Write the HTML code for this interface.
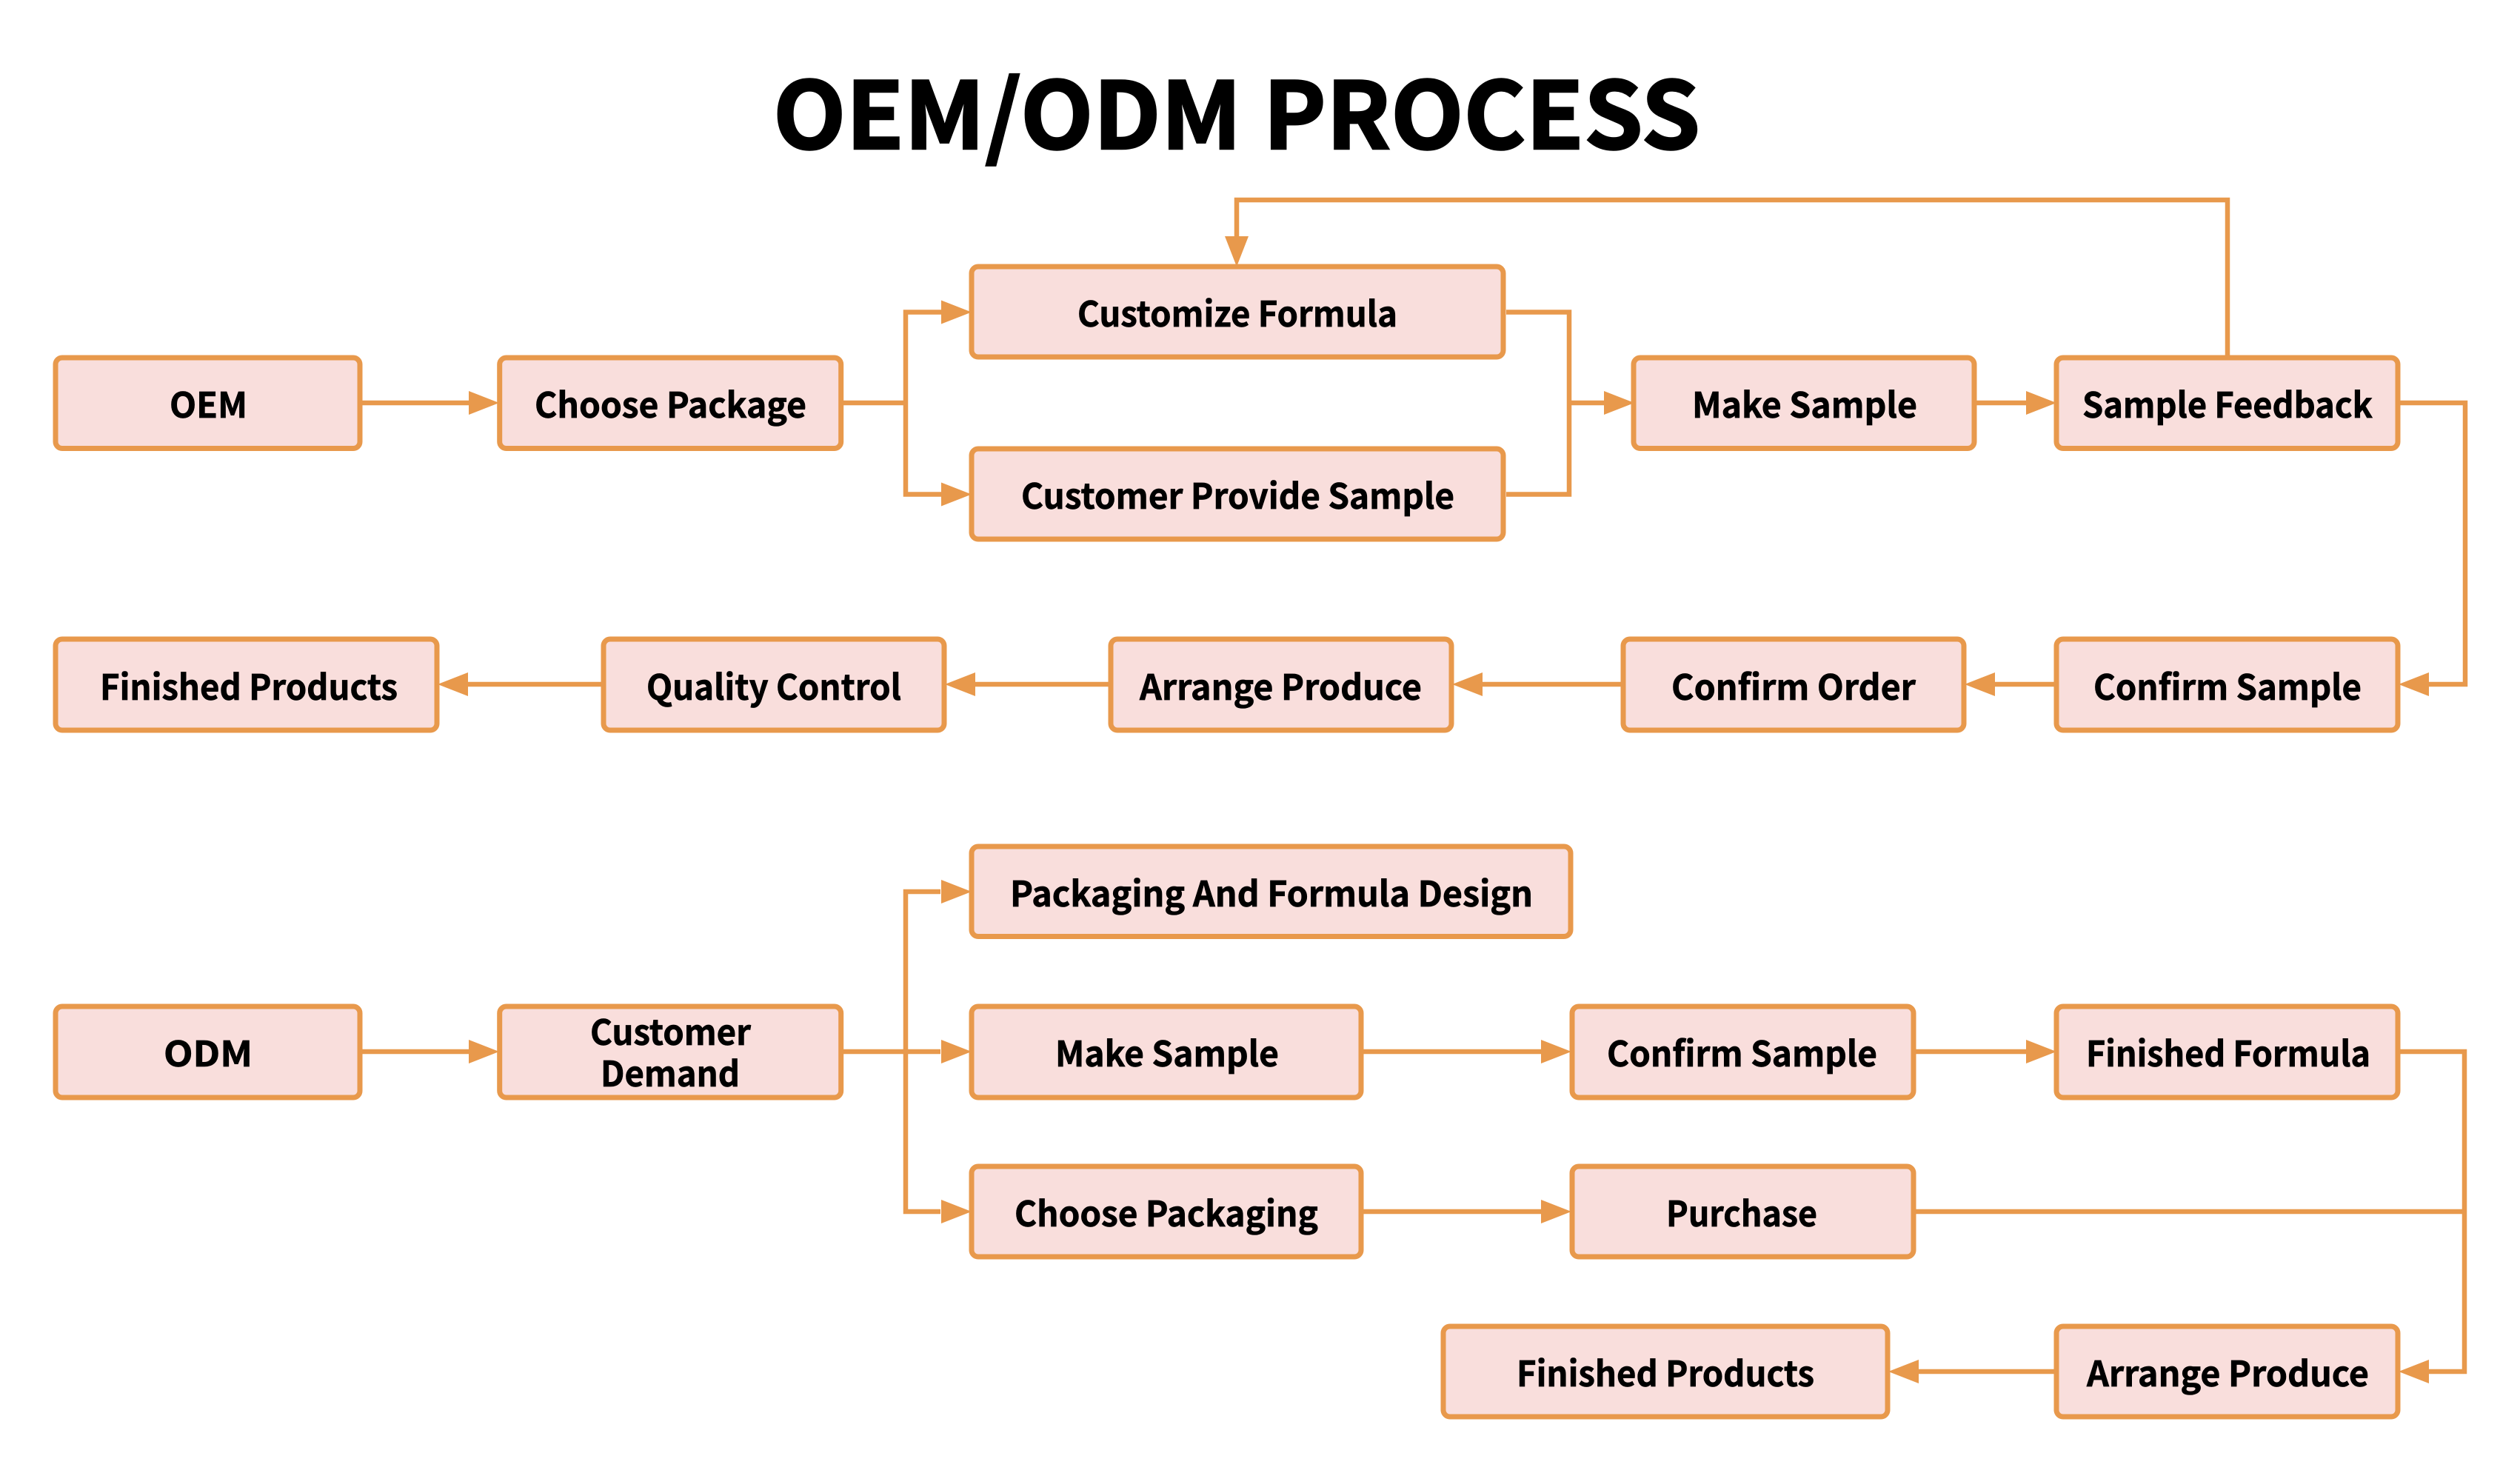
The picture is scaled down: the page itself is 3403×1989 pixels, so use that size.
<!DOCTYPE html>
<html><head><meta charset="utf-8"><style>
html,body{margin:0;padding:0;background:#fff;width:3403px;height:1989px;overflow:hidden}
svg{display:block}
rect{fill:#F9DEDC;stroke:#E8994C;stroke-width:7}
.l{fill:none;stroke:#E8994C;stroke-width:6.500;stroke-linejoin:miter}
.a{fill:#E8994C;stroke:none}
text{font-family:"Noto Sans CJK SC","Liberation Sans",sans-serif;font-weight:700;font-size:47px;fill:#000;stroke:#000;stroke-width:.7}
</style></head><body>
<svg width="3403" height="1989" viewBox="0 0 3403 1989" xmlns="http://www.w3.org/2000/svg">
<rect x="0" y="0" width="3403" height="1989" style="fill:#fff;stroke:none"/>
<text x="1044" y="201" textLength="1252" lengthAdjust="spacingAndGlyphs" style="font-size:125px;stroke-width:2.5">OEM/ODM PROCESS</text>

<!-- connectors -->
<path class="l" d="M489 544H640"/>
<path class="l" d="M1138 544H1223M1275 421.500H1223V667.500H1275"/>
<path class="l" d="M2034 421.500H2119V667.500H2034M2119 544H2170"/>
<path class="l" d="M2668 544H2740"/>
<path class="l" d="M3008 482V270H1670V325"/>
<path class="l" d="M3241 544H3329V924H3280"/>
<path class="l" d="M2775 924H2690"/>
<path class="l" d="M2190 924H2000"/>
<path class="l" d="M1497 924H1315"/>
<path class="l" d="M813 924H630"/>
<path class="l" d="M489 1420H640"/>
<path class="l" d="M1138 1420H1270M1270 1204H1223V1636H1270"/>
<path class="l" d="M1841 1420H2085"/>
<path class="l" d="M2586 1420H2740"/>
<path class="l" d="M1841 1636H2085"/>
<path class="l" d="M3241 1420H3328V1852H3280M2586 1636H3328"/>
<path class="l" d="M2775 1852H2590"/>

<!-- boxes and labels -->
<rect x="75" y="483" width="411" height="122.500" rx="9"/>
<text x="229" y="564" textLength="105" lengthAdjust="spacingAndGlyphs">OEM</text>
<rect x="674.700" y="483" width="461" height="122.500" rx="9"/>
<text x="722" y="564" textLength="367" lengthAdjust="spacingAndGlyphs">Choose Package</text>
<rect x="1312" y="360" width="718" height="122" rx="9"/>
<text x="1455" y="441" textLength="432" lengthAdjust="spacingAndGlyphs">Customize Formula</text>
<rect x="1312" y="606" width="718" height="122" rx="9"/>
<text x="1379" y="687" textLength="585" lengthAdjust="spacingAndGlyphs">Customer Provide Sample</text>
<rect x="2206" y="483" width="460" height="122.500" rx="9"/>
<text x="2285" y="564" textLength="304" lengthAdjust="spacingAndGlyphs">Make Sample</text>
<rect x="2777" y="483" width="461" height="122.500" rx="9"/>
<text x="2812" y="564" textLength="392" lengthAdjust="spacingAndGlyphs">Sample Feedback</text>

<rect x="75" y="863" width="515" height="123" rx="9"/>
<text x="135" y="945" textLength="402" lengthAdjust="spacingAndGlyphs">Finished Products</text>
<rect x="815" y="863" width="460" height="123" rx="9"/>
<text x="873" y="945" textLength="344" lengthAdjust="spacingAndGlyphs">Quality Control</text>
<rect x="1500" y="863" width="460" height="123" rx="9"/>
<text x="1539" y="945" textLength="381" lengthAdjust="spacingAndGlyphs">Arrange Produce</text>
<rect x="2192" y="863" width="460" height="123" rx="9"/>
<text x="2257" y="945" textLength="330" lengthAdjust="spacingAndGlyphs">Confirm Order</text>
<rect x="2777" y="863" width="461" height="123" rx="9"/>
<text x="2827" y="945" textLength="362" lengthAdjust="spacingAndGlyphs">Confirm Sample</text>

<rect x="1312" y="1143" width="809" height="121.500" rx="9"/>
<text x="1364" y="1224" textLength="706" lengthAdjust="spacingAndGlyphs">Packaging And Formula Design</text>
<rect x="75" y="1359" width="411" height="123" rx="9"/>
<text x="221" y="1440" textLength="120" lengthAdjust="spacingAndGlyphs">ODM</text>
<rect x="674.700" y="1359" width="461" height="123" rx="9"/>
<text x="797" y="1411" textLength="217" lengthAdjust="spacingAndGlyphs">Customer</text>
<text x="811" y="1467" textLength="188" lengthAdjust="spacingAndGlyphs">Demand</text>
<rect x="1312" y="1359" width="526" height="123" rx="9"/>
<text x="1425" y="1440" textLength="302" lengthAdjust="spacingAndGlyphs">Make Sample</text>
<rect x="2123" y="1359" width="461" height="123" rx="9"/>
<text x="2170" y="1440" textLength="365" lengthAdjust="spacingAndGlyphs">Confirm Sample</text>
<rect x="2777" y="1359" width="461" height="123" rx="9"/>
<text x="2817" y="1440" textLength="384" lengthAdjust="spacingAndGlyphs">Finished Formula</text>
<rect x="1312" y="1575" width="526" height="122" rx="9"/>
<text x="1370" y="1656" textLength="410" lengthAdjust="spacingAndGlyphs">Choose Packaging</text>
<rect x="2123" y="1575" width="461" height="122" rx="9"/>
<text x="2250" y="1656" textLength="204" lengthAdjust="spacingAndGlyphs">Purchase</text>
<rect x="1949" y="1791" width="600" height="122" rx="9"/>
<text x="2048" y="1872" textLength="402" lengthAdjust="spacingAndGlyphs">Finished Products</text>
<rect x="2777" y="1791" width="461" height="122" rx="9"/>
<text x="2818" y="1872" textLength="381" lengthAdjust="spacingAndGlyphs">Arrange Produce</text>

<!-- arrowheads -->
<polygon class="a" points="674,544 633,528 633,560"/>
<polygon class="a" points="1312,421.500 1271,405.500 1271,437.500"/>
<polygon class="a" points="1312,667.500 1271,651.500 1271,683.500"/>
<polygon class="a" points="2207,544 2166,528 2166,560"/>
<polygon class="a" points="2777,544 2736,528 2736,560"/>
<polygon class="a" points="1670,360 1654,319 1686,319"/>
<polygon class="a" points="3239,924 3280,908 3280,940"/>
<polygon class="a" points="2653,924 2694,908 2694,940"/>
<polygon class="a" points="1961,924 2002,908 2002,940"/>
<polygon class="a" points="1276,924 1317,908 1317,940"/>
<polygon class="a" points="591,924 632,908 632,940"/>
<polygon class="a" points="674,1420 633,1404 633,1436"/>
<polygon class="a" points="1312,1204 1271,1188 1271,1220"/>
<polygon class="a" points="1312,1420 1271,1404 1271,1436"/>
<polygon class="a" points="1312,1636 1271,1620 1271,1652"/>
<polygon class="a" points="2122,1420 2081,1404 2081,1436"/>
<polygon class="a" points="2777,1420 2736,1404 2736,1436"/>
<polygon class="a" points="2122,1636 2081,1620 2081,1652"/>
<polygon class="a" points="3239,1852 3280,1836 3280,1868"/>
<polygon class="a" points="2550,1852 2591,1836 2591,1868"/>
</svg>
</body></html>
